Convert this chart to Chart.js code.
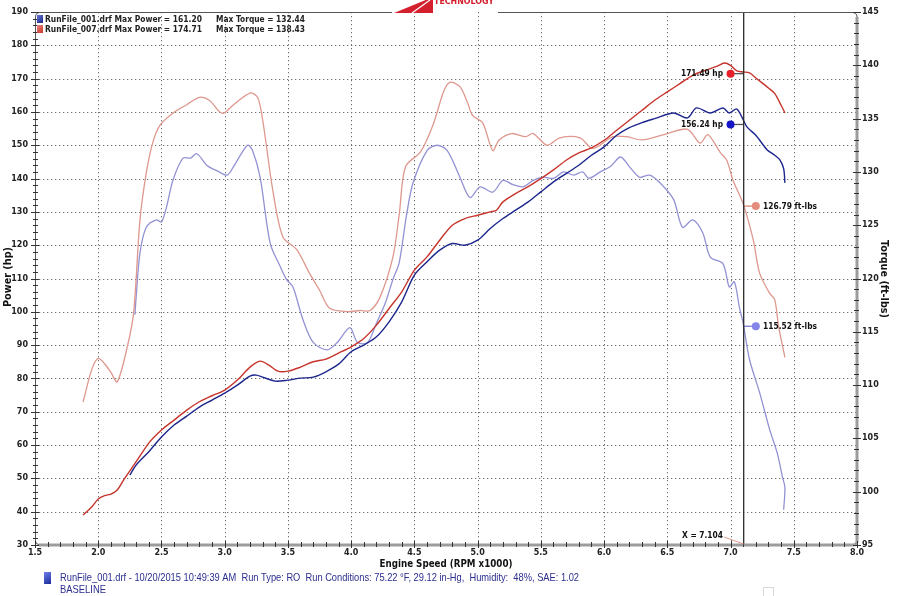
<!DOCTYPE html>
<html><head><meta charset="utf-8">
<script src="https://cdn.jsdelivr.net/npm/chart.js@4.4.0/dist/chart.umd.min.js"></script>
<style>html,body{margin:0;padding:0;background:#fff;}#wrap{width:900px;height:596px;position:relative;overflow:hidden}</style>
</head><body><div id="wrap"><canvas id="c" width="900" height="596"></canvas></div>
<script>
// ---- data (RPM x1000) ----
const rpmPower007 = [1.88,1.95,2.0,2.05,2.1,2.15,2.2,2.3,2.4,2.5,2.6,2.7,2.8,2.9,3.0,3.1,3.2,3.28,3.35,3.42,3.5,3.6,3.7,3.8,3.9,4.0,4.1,4.2,4.3,4.4,4.5,4.6,4.7,4.8,4.9,5.0,5.1,5.15,5.2,5.3,5.4,5.5,5.6,5.7,5.8,5.9,6.0,6.1,6.2,6.3,6.4,6.5,6.6,6.7,6.8,6.9,6.95,7.0,7.05,7.1,7.15,7.2,7.3,7.35,7.4,7.43];
const power007 = [39,41.5,43.8,44.8,45.3,46.5,49.5,55,60.6,64.5,67.5,70.5,73,74.8,76.5,79.5,83.4,85.2,84,82.2,82.2,83.4,85,85.8,87.6,89.5,92,96,101,106,112.5,116.5,121.5,126,128,129,130,130.5,133,135.5,137.6,140,142.6,145.5,147.7,149.2,151.5,154.5,157.5,160.5,163.5,166,168.5,171,172.5,173.8,174.7,174,172.3,172,171.7,170.2,167.2,165.5,162,159.7];

const rpmPower001 = [2.25,2.3,2.4,2.5,2.6,2.7,2.8,2.9,3.0,3.1,3.2,3.25,3.3,3.4,3.5,3.6,3.7,3.8,3.9,4.0,4.1,4.2,4.3,4.4,4.5,4.6,4.7,4.8,4.9,5.0,5.1,5.2,5.3,5.4,5.5,5.6,5.7,5.8,5.9,6.0,6.1,6.2,6.3,6.4,6.55,6.66,6.73,6.84,6.94,6.99,7.05,7.13,7.2,7.29,7.35,7.39,7.42,7.43];
const power001 = [51,54,58,62.4,66,68.7,71.4,73.5,75.6,78,80.7,81,80.4,79.2,79.5,80.1,80.4,82,84.3,88,90,92.5,97,103,111,115,118.5,120.5,120,121.5,125,128,130.5,133,136,139,141.5,144,147,149.5,153,155.3,156.8,158,159.7,158.2,161.2,159.7,161.2,159.7,160.9,155.5,153,148.6,147,145.6,143,138.7];

const rpmTorque007 = [1.88,1.95,2.0,2.05,2.1,2.15,2.23,2.28,2.33,2.38,2.43,2.49,2.6,2.7,2.8,2.88,2.98,3.07,3.2,3.26,3.3,3.38,3.46,3.57,3.67,3.75,3.83,3.97,4.07,4.15,4.23,4.33,4.38,4.43,4.55,4.65,4.73,4.78,4.86,4.92,4.96,5.04,5.12,5.17,5.27,5.38,5.44,5.55,5.65,5.81,5.91,6.07,6.18,6.3,6.5,6.66,6.76,6.82,6.92,6.97,7.02,7.1,7.18,7.23,7.31,7.35,7.38,7.43];
const torque007 = [108.4,111.5,112.5,112.0,111.2,110.3,113.6,116.8,125.5,129.9,132.7,134.4,135.6,136.3,137,136.7,135.5,136.3,137.4,137,134.9,128.3,123.9,122.7,120.5,118.9,117.2,116.9,117,117,118.3,122,126,130.5,131.9,134.5,137.5,138.4,138,136.5,135.3,134.6,132,133,133.6,133.3,133.6,132.5,133.2,133.2,132.2,133.3,133.3,133,133.6,134,132.7,133.5,131.8,131.1,129.2,127,123.6,120.5,118.6,118,115.5,112.6];

const rpmTorque001 = [2.29,2.3,2.33,2.38,2.46,2.5,2.54,2.59,2.67,2.73,2.78,2.86,2.94,3.02,3.07,3.18,3.22,3.28,3.36,3.44,3.49,3.54,3.62,3.7,3.81,3.89,3.99,4.05,4.13,4.2,4.27,4.33,4.38,4.44,4.49,4.6,4.68,4.76,4.86,4.94,5.02,5.12,5.2,5.28,5.36,5.44,5.52,5.6,5.68,5.76,5.83,5.88,5.97,6.05,6.13,6.2,6.28,6.36,6.44,6.55,6.62,6.7,6.78,6.84,6.94,6.99,7.03,7.07,7.1,7.15,7.23,7.31,7.37,7.41,7.43,7.42];
const torque001 = [116.6,118.3,122.4,124.8,125.5,125.3,126.7,129.2,131.3,131.3,131.7,130.6,130.1,129.7,130.5,132.5,132,129.5,123.3,121.1,119.9,119.2,116.1,114,113.3,114,115.4,114,114,115.8,117.7,119.9,121.5,126.1,129,132,132.5,132,129.5,127.6,128.6,128.1,129.2,128.8,128.6,129.2,129.5,129.4,130,129.7,130,129.4,130,130.5,131.4,130.5,129.5,129.7,129,127.4,124.8,125.5,124.3,122,121.4,119.2,119.7,117.3,115.8,112.4,109.3,105.8,103.6,101.4,100.4,98.3];

const cursorRpm = 7.104;
const markerRpmPower = 7.0;
const markerRpmTorque = 7.2;
const markerPower = [171.49, 156.24];      // 007, 001
const markerTorque = [126.79, 115.52];     // 007, 001
const legendLines = [
  ["RunFile_001.drf Max Power = 161.20", "Max Torque = 132.44"],
  ["RunFile_007.drf Max Power = 174.71", "Max Torque = 138.43"]
];
const footerLine1 = "RunFile_001.drf - 10/20/2015 10:49:39 AM  Run Type: RO  Run Conditions: 75.22 \u00B0F, 29.12 in-Hg,  Humidity:  48%, SAE: 1.02";
const footerLine2 = "BASELINE";
const xRange = [1.5, 8.0], hpRange = [30, 190], tqRange = [95, 145];

// ---- colors ----
const C_RED = 'rgb(198,52,44)', C_BLUE = 'rgb(28,38,140)';
const C_RED_T = 'rgb(222,152,142)', C_BLUE_T = 'rgb(146,146,212)';

const pts = (xs, ys) => xs.map((v, i) => ({x: v, y: ys[i]}));

function fitText(ctx, s, x, y, w, font, color, align) {
  ctx.save();
  ctx.font = font; ctx.fillStyle = color; ctx.textBaseline = 'middle'; ctx.textAlign = 'left';
  const m = ctx.measureText(s).width;
  const ww = w || m;
  let x0 = x;
  if (align === 'right') x0 = x - ww; else if (align === 'center') x0 = x - ww / 2;
  ctx.translate(x0, y); ctx.scale(ww / m, 1); ctx.fillText(s, 0, 0);
  ctx.restore();
}
function fitTextRot(ctx, s, cx, cy, w, font, color, ang) {
  ctx.save();
  ctx.font = font; ctx.fillStyle = color; ctx.textBaseline = 'middle'; ctx.textAlign = 'center';
  const m = ctx.measureText(s).width;
  ctx.translate(cx, cy); ctx.rotate(ang); ctx.scale(w / m, 1); ctx.fillText(s, 0, 0);
  ctx.restore();
}
function line(ctx, x1, y1, x2, y2) { ctx.beginPath(); ctx.moveTo(x1, y1); ctx.lineTo(x2, y2); ctx.stroke(); }

const deco = {
  id: 'deco',
  beforeDatasetsDraw(chart) {
    const {ctx, chartArea: a, scales: {x, y}} = chart;
    ctx.save();
    ctx.strokeStyle = '#6e6e6e'; ctx.lineWidth = 1; ctx.setLineDash([1.3, 2.7]);
    x.ticks.forEach(t => {
      if (t.value <= xRange[0] + 1e-9 || t.value >= xRange[1] - 1e-9) return;
      const px = Math.round(x.getPixelForValue(t.value)) + 0.5;
      line(ctx, px, a.top, px, a.bottom);
    });
    y.ticks.forEach(t => {
      if (t.value <= hpRange[0] || t.value >= hpRange[1]) return;
      const py = Math.round(y.getPixelForValue(t.value)) + 0.5;
      line(ctx, a.left, py, a.right, py);
    });
    ctx.restore();
  },
  afterDatasetsDraw(chart) {
    const {ctx, chartArea: a, scales: {x, y, y1}} = chart;
    ctx.save();
    // frame
    ctx.strokeStyle = '#9c9c9c'; ctx.lineWidth = 3;
    ctx.beginPath();
    ctx.moveTo(a.right, a.top + 5); ctx.lineTo(a.right, a.bottom - 4);
    ctx.quadraticCurveTo(a.right, a.bottom, a.right - 4, a.bottom);
    ctx.lineTo(a.left + 4, a.bottom);
    ctx.stroke();
    ctx.strokeStyle = '#555'; ctx.lineWidth = 1;
    ctx.beginPath();
    ctx.moveTo(a.left + 4, a.bottom - 0.5);
    ctx.quadraticCurveTo(a.left + 0.5, a.bottom - 0.5, a.left + 0.5, a.bottom - 4);
    ctx.lineTo(a.left + 0.5, a.top + 5);
    ctx.quadraticCurveTo(a.left + 0.5, a.top + 0.5, a.left + 5, a.top + 0.5);
    ctx.lineTo(392, a.top + 0.5);
    ctx.moveTo(498, a.top + 0.5);
    ctx.lineTo(a.right - 5, a.top + 0.5);
    ctx.quadraticCurveTo(a.right, a.top + 0.5, a.right, a.top + 5);
    ctx.stroke();
    // tick marks
    ctx.strokeStyle = '#333'; ctx.lineWidth = 1;
    for (let v = hpRange[0]; v <= hpRange[1]; v += 2) {
      const py = Math.round(y.getPixelForValue(v)) + 0.5;
      const major = v % 10 === 0;
      line(ctx, a.left - (major ? 4 : 2), py, a.left + (major ? 4 : 3), py);
    }
    for (let v = tqRange[0]; v <= tqRange[1]; v += 1) {
      const py = Math.round(y1.getPixelForValue(v)) + 0.5;
      const major = v % 5 === 0;
      line(ctx, a.right - (major ? 4 : 3), py, a.right + (major ? 4 : 2), py);
    }
    for (let i = Math.round(xRange[0] * 10); i <= Math.round(xRange[1] * 10); i++) {
      const px = Math.round(x.getPixelForValue(i / 10)) + 0.5;
      const major = i % 5 === 0;
      line(ctx, px, a.bottom - (major ? 4 : 3), px, a.bottom + (major ? 3 : 2));
    }
    // legend
    const lf = 'bold 9px "DejaVu Sans"';
    [[C_BLUE, '#6a7ae0'], [C_RED, '#f08a80']].forEach((c, i) => {
      const yy = 15 + i * 10;
      const g = ctx.createLinearGradient(36, yy, 43, yy + 8);
      g.addColorStop(0, c[1]); g.addColorStop(1, c[0]);
      ctx.fillStyle = g; ctx.fillRect(37, yy, 6, 8);
      fitText(ctx, legendLines[i][0], 45, yy + 4.5, 157, lf, '#222', 'left');
      fitText(ctx, legendLines[i][1], 216, yy + 4.5, 89, lf, '#222', 'left');
    });
    // logo
    ctx.fillStyle = '#d4202e';
    ctx.beginPath(); ctx.moveTo(394, 13); ctx.lineTo(433, 13); ctx.lineTo(433, -3); ctx.closePath(); ctx.fill();
    ctx.strokeStyle = '#fff'; ctx.lineWidth = 1.2;
    line(ctx, 412, 13, 430, 0);
    fitText(ctx, 'TECHNOLOGY', 434, 2, 60, 'bold 9px "DejaVu Sans"', '#d4202e', 'left');
    // marker labels
    const mf = 'bold 8px "DejaVu Sans"';
    fitText(ctx, markerPower[0].toFixed(2) + ' hp', 723, y.getPixelForValue(markerPower[0]) + 0.5, 42, mf, '#111', 'right');
    fitText(ctx, markerPower[1].toFixed(2) + ' hp', 723, y.getPixelForValue(markerPower[1]) + 0.5, 42, mf, '#111', 'right');
    fitText(ctx, markerTorque[0].toFixed(2) + ' ft-lbs', 763, y1.getPixelForValue(markerTorque[0]) + 0.5, 54, mf, '#111', 'left');
    fitText(ctx, markerTorque[1].toFixed(2) + ' ft-lbs', 763, y1.getPixelForValue(markerTorque[1]) + 0.5, 54, mf, '#111', 'left');
    // cursor label
    const cx = x.getPixelForValue(cursorRpm);
    fitText(ctx, 'X = ' + cursorRpm.toFixed(3), 682, 536, 41, mf, '#111', 'left');
    ctx.strokeStyle = C_RED_T; ctx.lineWidth = 1;
    line(ctx, 724, 537, cx, a.bottom - 1);
    // axis titles
    const tf = 'bold 10px "DejaVu Sans"';
    fitText(ctx, 'Engine Speed (RPM x1000)', 446, 564, 133, tf, '#111', 'center');
    fitTextRot(ctx, 'Power (hp)', 8, 277, 60, tf, '#111', -Math.PI / 2);
    fitTextRot(ctx, 'Torque (ft-lbs)', 884, 279, 78, tf, '#111', Math.PI / 2);
    // footer
    const g2 = ctx.createLinearGradient(44, 572, 51, 584);
    g2.addColorStop(0, '#7080e8'); g2.addColorStop(1, '#1a2a9a');
    ctx.fillStyle = g2; ctx.fillRect(44, 572, 7, 12);
    const ff = '11px "Liberation Sans"';
    fitText(ctx, footerLine1, 60, 578, 519, ff, '#2b2e8e', 'left');
    fitText(ctx, footerLine2, 60, 590, 46, ff, '#2b2e8e', 'left');
    ctx.strokeStyle = '#d8d8d8'; ctx.lineWidth = 1;
    ctx.strokeRect(763.5, 587.5, 10, 10);
    ctx.restore();
  }
};

const lineDs = (label, xs, ys, color, axis, width, order) => ({
  label, data: pts(xs, ys), yAxisID: axis, borderColor: color, backgroundColor: color,
  borderWidth: width, pointRadius: 0, tension: 0.3, fill: false, order
});

const ticksFont = {family: 'DejaVu Sans', size: 8, weight: 'bold'};

new Chart(document.getElementById('c'), {
  type: 'line',
  data: {
    datasets: [
      lineDs('Torque 001', rpmTorque001, torque001, C_BLUE_T, 'y1', 1.3, 5),
      lineDs('Torque 007', rpmTorque007, torque007, C_RED_T, 'y1', 1.3, 4),
      lineDs('Power 001', rpmPower001, power001, C_BLUE, 'y', 1.4, 3),
      lineDs('Power 007', rpmPower007, power007, C_RED, 'y', 1.4, 2),
      {label: 'cursor', data: [{x: cursorRpm, y: hpRange[0]}, {x: cursorRpm, y: hpRange[1]}], yAxisID: 'y',
       borderColor: '#2a2a2a', borderWidth: 1.3, pointRadius: 0, order: 1},
      {label: 'pc1', data: [{x: markerRpmPower, y: markerPower[0]}, {x: cursorRpm, y: markerPower[0]}], yAxisID: 'y',
       borderColor: '#555', borderWidth: 1.3, pointRadius: 0, order: 1},
      {label: 'pc2', data: [{x: markerRpmPower, y: markerPower[1]}, {x: cursorRpm, y: markerPower[1]}], yAxisID: 'y',
       borderColor: '#555', borderWidth: 1.3, pointRadius: 0, order: 1},
      {label: 'tc1', data: [{x: cursorRpm, y: markerTorque[0]}, {x: markerRpmTorque, y: markerTorque[0]}], yAxisID: 'y1',
       borderColor: '#d88a7c', borderWidth: 1.3, pointRadius: 0, order: 1},
      {label: 'tc2', data: [{x: cursorRpm, y: markerTorque[1]}, {x: markerRpmTorque, y: markerTorque[1]}], yAxisID: 'y1',
       borderColor: '#7d7dd6', borderWidth: 1.3, pointRadius: 0, order: 1},
      {label: 'mp', data: [{x: markerRpmPower, y: markerPower[0]}, {x: markerRpmPower, y: markerPower[1]}], yAxisID: 'y',
       showLine: false, pointRadius: 4, pointBorderWidth: 0,
       pointBackgroundColor: ['#e5202a', '#1414c8'], pointBorderColor: ['#e5202a', '#1414c8'], order: 0},
      {label: 'mt', data: [{x: markerRpmTorque, y: markerTorque[0]}, {x: markerRpmTorque, y: markerTorque[1]}], yAxisID: 'y1',
       showLine: false, pointRadius: 4, pointBorderWidth: 0,
       pointBackgroundColor: ['#e48c7e', '#8484ea'], pointBorderColor: ['#e48c7e', '#8484ea'], order: 0}
    ]
  },
  options: {
    responsive: false, animation: false, devicePixelRatio: 1,
    layout: {padding: {top: 12, left: 0, right: 0, bottom: 0}},
    plugins: {legend: {display: false}, tooltip: {enabled: false}},
    scales: {
      x: {
        type: 'linear', min: xRange[0], max: xRange[1],
        grid: {display: false, drawTicks: false}, border: {display: false},
        ticks: {stepSize: 0.5, autoSkip: false, maxRotation: 0, padding: 3, font: ticksFont, color: '#222',
                callback: v => Number(v).toFixed(1)},
        afterFit: s => { s.height = 51; }
      },
      y: {
        type: 'linear', position: 'left', min: hpRange[0], max: hpRange[1],
        grid: {display: false, drawTicks: false}, border: {display: false},
        ticks: {stepSize: 10, padding: 7, font: ticksFont, color: '#222'},
        afterFit: s => { s.width = 35; }
      },
      y1: {
        type: 'linear', position: 'right', min: tqRange[0], max: tqRange[1],
        grid: {display: false, drawTicks: false}, border: {display: false},
        ticks: {stepSize: 5, padding: 5, font: ticksFont, color: '#222'},
        afterFit: s => { s.width = 43; }
      }
    }
  },
  plugins: [deco]
});
</script>
</body></html>
